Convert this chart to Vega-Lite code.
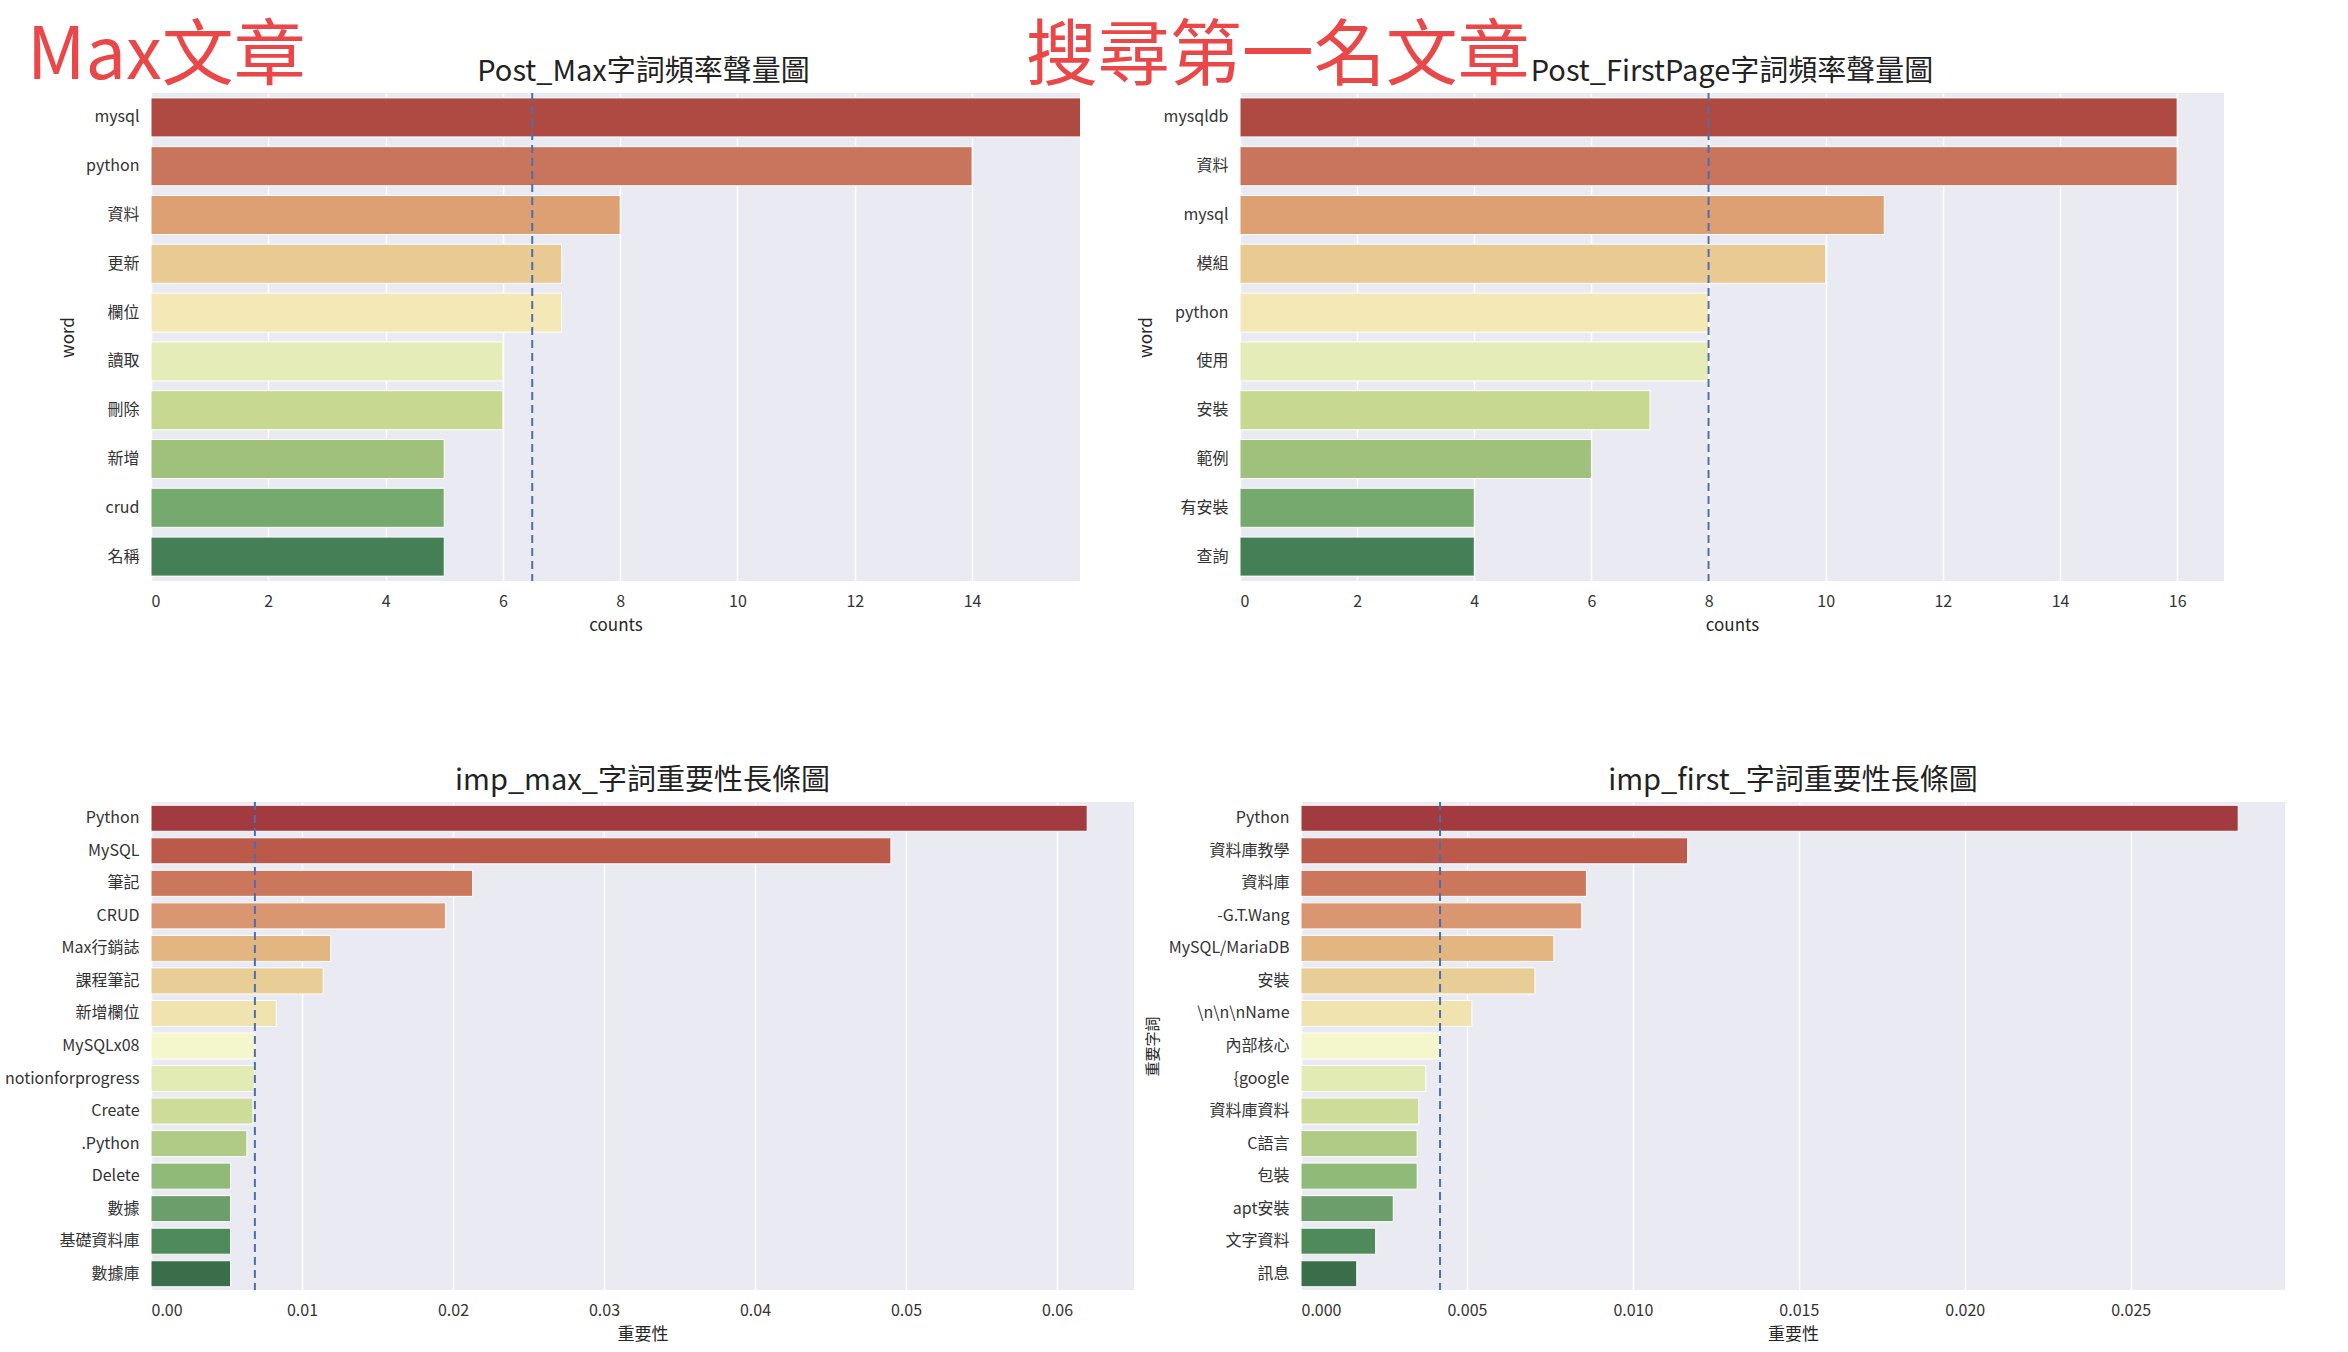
{
  "$schema": "https://vega.github.io/schema/vega-lite/v6.json",
  "autosize": {"type": "none"},
  "padding": {"left": 151, "top": 93, "right": 2197, "bottom": 1259},
  "background": "white",
  "title": {
    "text": "Max文章　　　　　　　　　　搜尋第一名文章",
    "anchor": "start",
    "frame": "group",
    "dx": -124,
    "offset": -36,
    "fontSize": 72,
    "color": "#ea4848",
    "fontWeight": "normal"
  },
  "bounds": "flush",
  "spacing": 709,
  "resolve": {"scale": {"color": "independent"}},
  "vconcat": [
    {
      "bounds": "flush",
      "spacing": 160,
      "resolve": {"scale": {"color": "independent"}},
      "hconcat": [
        {
          "width": 929,
          "height": 488,
          "title": {"text": "Post_Max字詞頻率聲量圖", "dx": 28, "offset": 5},
          "data": {
            "values": [
              {"word": "mysql", "counts": 16},
              {"word": "python", "counts": 14},
              {"word": "資料", "counts": 8},
              {"word": "更新", "counts": 7},
              {"word": "欄位", "counts": 7},
              {"word": "讀取", "counts": 6},
              {"word": "刪除", "counts": 6},
              {"word": "新增", "counts": 5},
              {"word": "crud", "counts": 5},
              {"word": "名稱", "counts": 5}
            ]
          },
          "layer": [
            {
              "mark": {"type": "bar", "clip": true, "stroke": "white", "strokeWidth": 1},
              "encoding": {
                "y": {"field": "word", "type": "nominal", "sort": null, "title": "word",
                      "scale": {"paddingInner": 0.2, "paddingOuter": 0.1}},
                "x": {"field": "counts", "type": "quantitative", "title": "counts",
                      "scale": {"domain": [0, 15.84], "nice": false},
                      "axis": {"values": [0, 2, 4, 6, 8, 10, 12, 14], "format": "d"}},
                "color": {"field": "word", "type": "nominal", "legend": null,
                          "scale": {"domain": ["mysql", "python", "資料", "更新", "欄位", "讀取", "刪除", "新增", "crud", "名稱"],
                                    "range": ["#ae4a42", "#c9745c", "#dca073", "#e8ca92", "#f3e8b6", "#e5ecb8", "#c7d891", "#9fc17b", "#75a96e", "#447f55"]}}
              }
            },
            {
              "transform": [{"aggregate": [{"op": "median", "field": "counts", "as": "counts"}]}],
              "mark": {"type": "rule", "color": "#4c6fb0", "strokeDash": [8, 5], "strokeWidth": 2},
              "encoding": {"x": {"field": "counts", "type": "quantitative"}}
            }
          ]
        },
        {
          "width": 984,
          "height": 488,
          "title": {"text": "Post_FirstPage字詞頻率聲量圖", "offset": 5},
          "data": {
            "values": [
              {"word": "mysqldb", "counts": 16},
              {"word": "資料", "counts": 16},
              {"word": "mysql", "counts": 11},
              {"word": "模組", "counts": 10},
              {"word": "python", "counts": 8},
              {"word": "使用", "counts": 8},
              {"word": "安裝", "counts": 7},
              {"word": "範例", "counts": 6},
              {"word": "有安裝", "counts": 4},
              {"word": "查詢", "counts": 4}
            ]
          },
          "layer": [
            {
              "mark": {"type": "bar", "stroke": "white", "strokeWidth": 1},
              "encoding": {
                "y": {"field": "word", "type": "nominal", "sort": null, "title": "word",
                      "scale": {"paddingInner": 0.2, "paddingOuter": 0.1}},
                "x": {"field": "counts", "type": "quantitative", "title": "counts",
                      "scale": {"domain": [0, 16.8], "nice": false},
                      "axis": {"values": [0, 2, 4, 6, 8, 10, 12, 14, 16], "format": "d"}},
                "color": {"field": "word", "type": "nominal", "legend": null,
                          "scale": {"domain": ["mysqldb", "資料", "mysql", "模組", "python", "使用", "安裝", "範例", "有安裝", "查詢"],
                                    "range": ["#ae4a42", "#c9745c", "#dca073", "#e8ca92", "#f3e8b6", "#e5ecb8", "#c7d891", "#9fc17b", "#75a96e", "#447f55"]}}
              }
            },
            {
              "transform": [{"aggregate": [{"op": "median", "field": "counts", "as": "counts"}]}],
              "mark": {"type": "rule", "color": "#4c6fb0", "strokeDash": [8, 5], "strokeWidth": 2},
              "encoding": {"x": {"field": "counts", "type": "quantitative"}}
            }
          ]
        }
      ]
    },
    {
      "bounds": "flush",
      "spacing": 167,
      "resolve": {"scale": {"color": "independent"}},
      "hconcat": [
        {
          "width": 983,
          "height": 488,
          "title": {"text": "imp_max_字詞重要性長條圖", "fontSize": 29, "offset": 5},
          "data": {
            "values": [
              {"word": "Python", "importance": 0.062},
              {"word": "MySQL", "importance": 0.049},
              {"word": "筆記", "importance": 0.0213},
              {"word": "CRUD", "importance": 0.0195},
              {"word": "Max行銷誌", "importance": 0.0119},
              {"word": "課程筆記", "importance": 0.0114},
              {"word": "新增欄位", "importance": 0.0083},
              {"word": "MySQLx08", "importance": 0.00688},
              {"word": "notionforprogress", "importance": 0.00685},
              {"word": "Create", "importance": 0.00675},
              {"word": ".Python", "importance": 0.00635},
              {"word": "Delete", "importance": 0.00527},
              {"word": "數據", "importance": 0.00527},
              {"word": "基礎資料庫", "importance": 0.00527},
              {"word": "數據庫", "importance": 0.00527}
            ]
          },
          "layer": [
            {
              "mark": {"type": "bar", "stroke": "white", "strokeWidth": 1},
              "encoding": {
                "y": {"field": "word", "type": "nominal", "sort": null, "title": null,
                      "scale": {"paddingInner": 0.2, "paddingOuter": 0.1}},
                "x": {"field": "importance", "type": "quantitative", "title": "重要性",
                      "scale": {"domain": [0, 0.0651], "nice": false},
                      "axis": {"values": [0, 0.01, 0.02, 0.03, 0.04, 0.05, 0.06], "format": ".2f"}},
                "color": {"field": "word", "type": "nominal", "legend": null,
                          "scale": {"domain": ["Python", "MySQL", "筆記", "CRUD", "Max行銷誌", "課程筆記", "新增欄位", "MySQLx08", "notionforprogress", "Create", ".Python", "Delete", "數據", "基礎資料庫", "數據庫"],
                                    "range": ["#a23b3f", "#bb5a4a", "#cc775c", "#d99670", "#e3b580", "#e8cd96", "#f1e3b0", "#f4f6cc", "#e2ebb3", "#cddc98", "#afcb85", "#8fba78", "#6b9e6a", "#4f8a5a", "#3a6e4b"]}}
              }
            },
            {
              "transform": [{"aggregate": [{"op": "median", "field": "importance", "as": "importance"}]}],
              "mark": {"type": "rule", "color": "#4c6fb0", "strokeDash": [8, 5], "strokeWidth": 2},
              "encoding": {"x": {"field": "importance", "type": "quantitative"}}
            }
          ]
        },
        {
          "width": 984,
          "height": 488,
          "title": {"text": "imp_first_字詞重要性長條圖", "fontSize": 29, "offset": 5},
          "data": {
            "values": [
              {"word": "Python", "importance": 0.02824},
              {"word": "資料庫教學", "importance": 0.01165},
              {"word": "資料庫", "importance": 0.0086},
              {"word": "-G.T.Wang", "importance": 0.00846},
              {"word": "MySQL/MariaDB", "importance": 0.00762},
              {"word": "安裝", "importance": 0.00705},
              {"word": "\\n\\n\\nName", "importance": 0.00515},
              {"word": "內部核心", "importance": 0.00419},
              {"word": "{google", "importance": 0.00376},
              {"word": "資料庫資料", "importance": 0.00355},
              {"word": "C語言", "importance": 0.0035},
              {"word": "包裝", "importance": 0.0035},
              {"word": "apt安裝", "importance": 0.00278},
              {"word": "文字資料", "importance": 0.00225},
              {"word": "訊息", "importance": 0.00168}
            ]
          },
          "layer": [
            {
              "mark": {"type": "bar", "stroke": "white", "strokeWidth": 1},
              "encoding": {
                "y": {"field": "word", "type": "nominal", "sort": null, "title": "重要字詞",
                      "axis": {"titleFontSize": 15},
                      "scale": {"paddingInner": 0.2, "paddingOuter": 0.1}},
                "x": {"field": "importance", "type": "quantitative", "title": "重要性",
                      "scale": {"domain": [0, 0.02965], "nice": false},
                      "axis": {"values": [0, 0.005, 0.01, 0.015, 0.02, 0.025], "format": ".3f"}},
                "color": {"field": "word", "type": "nominal", "legend": null,
                          "scale": {"domain": ["Python", "資料庫教學", "資料庫", "-G.T.Wang", "MySQL/MariaDB", "安裝", "\\n\\n\\nName", "內部核心", "{google", "資料庫資料", "C語言", "包裝", "apt安裝", "文字資料", "訊息"],
                                    "range": ["#a23b3f", "#bb5a4a", "#cc775c", "#d99670", "#e3b580", "#e8cd96", "#f1e3b0", "#f4f6cc", "#e2ebb3", "#cddc98", "#afcb85", "#8fba78", "#6b9e6a", "#4f8a5a", "#3a6e4b"]}}
              }
            },
            {
              "transform": [{"aggregate": [{"op": "median", "field": "importance", "as": "importance"}]}],
              "mark": {"type": "rule", "color": "#4c6fb0", "strokeDash": [8, 5], "strokeWidth": 2},
              "encoding": {"x": {"field": "importance", "type": "quantitative"}}
            }
          ]
        }
      ]
    }
  ],
  "config": {
    "font": "Noto Sans CJK TC",
    "view": {"fill": "#eaeaf2", "stroke": null},
    "axis": {
      "domain": false,
      "ticks": false,
      "grid": true,
      "gridColor": "#ffffff",
      "gridWidth": 1.5,
      "labelFontSize": 16,
      "labelColor": "#333333",
      "labelPadding": 12,
      "titleFontSize": 17,
      "titleFontWeight": "normal",
      "titleColor": "#262626",
      "titlePadding": 8
    },
    "axisY": {"grid": false},
    "title": {"fontSize": 29, "fontWeight": "normal", "color": "#222222"}
  }
}
